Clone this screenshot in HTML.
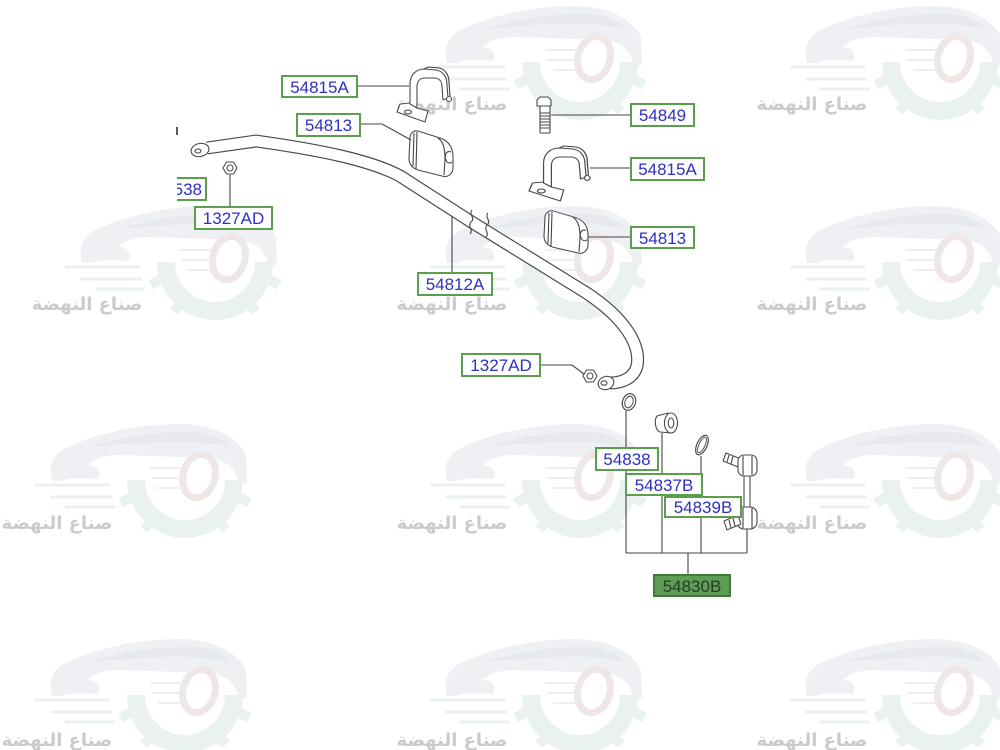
<!DOCTYPE html>
<html><head><meta charset="utf-8"><style>
html,body{margin:0;padding:0;background:#fff;}
svg{display:block;}
.lb{fill:#fff;stroke:#5a9e4e;stroke-width:2;}
.lt{font-family:"Liberation Sans",sans-serif;font-size:17px;fill:#2f2fc4;text-anchor:middle;}
.ln{fill:none;stroke:#444;stroke-width:1.1;}
.pt{fill:#fff;stroke:#4a4a4a;stroke-width:1.1;stroke-linejoin:round;}
.ar{font-family:"DejaVu Sans",sans-serif;font-size:18px;font-weight:bold;fill:#cbcbcb;text-anchor:middle;}
</style></head><body>
<svg width="1000" height="750" viewBox="0 0 1000 750" xmlns="http://www.w3.org/2000/svg">
<defs>
<g id="wm">
  <path d="M52,58 C48,42 52,30 72,22 C100,10 140,1 180,1 C212,1 238,14 246,32 L247,60 L238,60 C236,46 228,38 210,35 L120,32 C104,32 94,36 88,42 C98,43 102,48 98,56 C84,55 70,54 62,58 Z" fill="#eef0f3"/>
  <path d="M90,24 C120,14 160,8 195,9 C212,10 224,16 230,24 C212,20 190,18 165,19 C135,20 110,22 90,24 Z" fill="#e6eaee"/>
  <path d="M136,57 A49,49 0 0 0 234,57" fill="none" stroke="#eaf1f1" stroke-width="18"/>
  <rect x="120" y="72" width="12" height="10" fill="#eaf1f1" transform="rotate(-30 126 77)"/>
  <rect x="179" y="106" width="12" height="8" fill="#eaf1f1"/>
  <rect x="238" y="72" width="12" height="10" fill="#eaf1f1" transform="rotate(30 244 77)"/>
  <rect x="142" y="97" width="12" height="10" fill="#eaf1f1" transform="rotate(-45 148 102)"/>
  <rect x="216" y="97" width="12" height="10" fill="#eaf1f1" transform="rotate(45 222 102)"/>
  <ellipse cx="199" cy="53" rx="16" ry="22" transform="rotate(15 199 53)" fill="#fff" stroke="#efe6e6" stroke-width="7"/>
  <path d="M35,62 H110 M50,74 H112 M65,84 H115" stroke="#ebf0f0" stroke-width="3"/>
  <path d="M150,45 H182 M152,55 H180 M158,65 H182" stroke="#eceef0" stroke-width="2"/>
</g>
<clipPath id="cl538"><rect x="177" y="170" width="40" height="40"/></clipPath>
</defs>

<!-- watermark tiles -->
<use href="#wm" x="395" y="5"/><use href="#wm" x="755" y="5"/>
<use href="#wm" x="30" y="205"/><use href="#wm" x="395" y="205"/><use href="#wm" x="755" y="205"/>
<use href="#wm" x="0" y="423"/><use href="#wm" x="395" y="423"/><use href="#wm" x="755" y="423"/>
<use href="#wm" x="0" y="638"/><use href="#wm" x="395" y="638"/><use href="#wm" x="755" y="638"/>
<text class="ar" x="452" y="110">صناع النهضة</text>
<text class="ar" x="812" y="110">صناع النهضة</text>
<text class="ar" x="87" y="310">صناع النهضة</text>
<text class="ar" x="452" y="310">صناع النهضة</text>
<text class="ar" x="812" y="310">صناع النهضة</text>
<text class="ar" x="57" y="529">صناع النهضة</text>
<text class="ar" x="452" y="529">صناع النهضة</text>
<text class="ar" x="812" y="529">صناع النهضة</text>
<text class="ar" x="57" y="746">صناع النهضة</text>
<text class="ar" x="452" y="746">صناع النهضة</text>
<text class="ar" x="812" y="746">صناع النهضة</text>

<!-- small mark -->
<line x1="177" y1="127" x2="177" y2="135" stroke="#222" stroke-width="1.5"/>

<!-- stabilizer bar -->
<path d="M207,148 L256,141 C320,150 370,160 400,176 L470,221 L585,292 C625,318 641,345 637,366 C634,378 622,383 610,383" fill="none" stroke="#4a4a4a" stroke-width="13" stroke-linejoin="round"/>
<path d="M207,148 L256,141 C320,150 370,160 400,176 L470,221 L585,292 C625,318 641,345 637,366 C634,378 622,383 610,383" fill="none" stroke="#fff" stroke-width="10.6" stroke-linejoin="round"/>
<!-- break marks -->
<path d="M472,210 C468,214 476,218 471,222 C467,226 474,230 470,234" class="ln"/>
<path d="M488,213 C484,217 492,221 487,225 C483,229 490,233 486,237" class="ln"/>
<!-- eyes -->
<ellipse cx="200" cy="150" rx="9" ry="6.5" transform="rotate(-12 200 150)" class="pt"/>
<ellipse cx="198" cy="151" rx="3" ry="2" class="pt"/>
<ellipse cx="606" cy="383" rx="8" ry="6.5" transform="rotate(-20 606 383)" class="pt"/>
<ellipse cx="604" cy="383" rx="3" ry="2.2" class="pt"/>

<!-- left clamp 54815A -->
<g transform="translate(397,68)">
  <path class="pt" d="M0,44 L3,36 L13,35 L20,40 L31,43 L28,54 Z"/>
  <ellipse class="pt" cx="11" cy="44" rx="3.5" ry="2"/>
  <path class="pt" d="M13,36 L13,16 C13,7 19,1 27,1 L39,2 C46,3 50,9 50,17 L51,30 L46,32 L45,19 C45,13 42,10 37,10 L28,10 C23,10 20,13 20,19 L20,40 Z"/>
  <path class="ln" d="M27,1 L31,-1 L42,0 C48,1 52,7 52,14 L53,28"/>
  <circle class="pt" cx="52" cy="31" r="2.5"/>
</g>
<!-- right clamp 54815A -->
<g transform="translate(529,147) scale(1.12,1)">
  <path class="pt" d="M0,44 L3,36 L13,35 L20,40 L31,43 L28,54 Z"/>
  <ellipse class="pt" cx="11" cy="44" rx="3.5" ry="2"/>
  <path class="pt" d="M13,36 L13,16 C13,7 19,1 27,1 L39,2 C46,3 50,9 50,17 L51,30 L46,32 L45,19 C45,13 42,10 37,10 L28,10 C23,10 20,13 20,19 L20,40 Z"/>
  <path class="ln" d="M27,1 L31,-1 L42,0 C48,1 52,7 52,14 L53,28"/>
  <circle class="pt" cx="52" cy="31" r="2.5"/>
</g>
<!-- left bushing 54813 -->
<g transform="translate(408,130)">
  <path class="pt" d="M2,8 C2,3 6,0 10,1 L32,8 C41,11 45,18 45,27 L45,37 C45,44 40,48 34,46 L10,40 C4,38 1,34 1,28 Z"/>
  <path class="ln" d="M30,8 C36,12 37,20 37,30 L36,45"/>
  <path class="ln" d="M43,22 C38,20 36,26 38,30 C39,33 42,34 44,32"/>
  <path class="ln" d="M6,3 L5,36 M9,2 L8,39"/>
</g>
<!-- right bushing 54813 -->
<g transform="translate(543,210) scale(1,0.93)">
  <path class="pt" d="M2,8 C2,3 6,0 10,1 L32,8 C41,11 45,18 45,27 L45,37 C45,44 40,48 34,46 L10,40 C4,38 1,34 1,28 Z"/>
  <path class="ln" d="M30,8 C36,12 37,20 37,30 L36,45"/>
  <path class="ln" d="M43,22 C38,20 36,26 38,30 C39,33 42,34 44,32"/>
  <path class="ln" d="M6,3 L5,36 M9,2 L8,39"/>
</g>
<!-- bolt 54849 -->
<path class="pt" d="M537,100 L540,97 L548,97 L551,100 L551,106 L537,106 Z"/>
<rect class="pt" x="540" y="106" width="10" height="27" rx="1"/>
<path class="ln" d="M540,113 H550 M540,116 H550 M540,119 H550 M540,122 H550 M540,125 H550 M540,128 H550"/>
<!-- nuts -->
<polygon class="pt" points="237,168 233.5,174 226.5,174 223,168 226.5,162 233.5,162"/>
<circle class="pt" cx="230" cy="168" r="3"/>
<polygon class="pt" points="597,376 593.5,382 586.5,382 583,376 586.5,370 593.5,370"/>
<circle class="pt" cx="590" cy="376" r="3"/>

<!-- link parts -->
<ellipse cx="629" cy="402" rx="6.5" ry="8.5" transform="rotate(20 629 402)" fill="none" stroke="#4a4a4a" stroke-width="1.2"/>
<ellipse cx="629" cy="402" rx="4" ry="6" transform="rotate(20 629 402)" fill="none" stroke="#4a4a4a" stroke-width="1"/>
<path class="pt" d="M657,416 L668,413 L672,433 L660,432 C655,430 654,420 657,416 Z"/>
<ellipse class="pt" cx="671" cy="423" rx="6.5" ry="10"/>
<ellipse class="pt" cx="671" cy="423" rx="2.8" ry="5"/>
<ellipse cx="702" cy="445" rx="5" ry="10.5" transform="rotate(25 702 445)" fill="none" stroke="#4a4a4a" stroke-width="1.2"/>
<ellipse cx="702" cy="445" rx="3" ry="8.5" transform="rotate(25 702 445)" fill="none" stroke="#4a4a4a" stroke-width="0.9"/>
<!-- stabilizer link -->
<path class="pt" d="M744,474 L744,509 L750,509 L750,474 Z"/>
<path class="pt" d="M726,453 L741,459 L738,467 L723,461 Z"/>
<path class="ln" d="M729,455 L727,462 M733,456 L731,464"/>
<rect class="pt" x="738" y="455" width="19" height="21" rx="6"/>
<path class="ln" d="M743,456 L743,475 M752,456 L752,475"/>
<rect class="pt" x="737" y="507" width="20" height="22" rx="7"/>
<path class="ln" d="M743,508 L743,528 M752,508 L752,528"/>
<path class="pt" d="M738,515 L724,521 L727,530 L741,524 Z"/>
<path class="ln" d="M729,520 L731,528 M733,518 L735,526"/>

<!-- leaders -->
<path class="ln" d="M357,86 H409"/>
<path class="ln" d="M360,124 H382 L411,140"/>
<path class="ln" d="M230,175 V207"/>
<path class="ln" d="M551,115 H631"/>
<path class="ln" d="M590,168 H631"/>
<path class="ln" d="M588,237 H631"/>
<path class="ln" d="M452,217 V273"/>
<path class="ln" d="M540,365 H572 L584,374"/>
<path class="ln" d="M626,411 V448 M626,470 V553"/>
<path class="ln" d="M662,433 V474 M662,495 V553"/>
<path class="ln" d="M701,456 V497 M701,517 V553"/>
<path class="ln" d="M747,529 V553"/>
<path class="ln" d="M626,553 H747"/>
<path class="ln" d="M688,553 V575"/>

<!-- labels -->
<rect class="lb" x="282" y="76" width="75" height="21"/><text class="lt" x="319.5" y="93">54815A</text>
<rect class="lb" x="297" y="114" width="63" height="22"/><text class="lt" x="328.5" y="131">54813</text>
<g clip-path="url(#cl538)"><rect class="lb" x="150" y="178" width="56" height="22"/><text class="lt" x="202" y="195" style="text-anchor:end">538</text></g>
<rect class="lb" x="195" y="207" width="77" height="22"/><text class="lt" x="233.5" y="224">1327AD</text>
<rect class="lb" x="631" y="104" width="63" height="22"/><text class="lt" x="662.5" y="121">54849</text>
<rect class="lb" x="631" y="158" width="73" height="22"/><text class="lt" x="667.5" y="175">54815A</text>
<rect class="lb" x="631" y="227" width="63" height="21"/><text class="lt" x="662.5" y="244">54813</text>
<rect class="lb" x="418" y="273" width="74" height="22"/><text class="lt" x="455" y="290">54812A</text>
<rect class="lb" x="462" y="354" width="78" height="22"/><text class="lt" x="501" y="371">1327AD</text>
<rect class="lb" x="596" y="448" width="62" height="22"/><text class="lt" x="627" y="465">54838</text>
<rect class="lb" x="626" y="474" width="76" height="21"/><text class="lt" x="664" y="491">54837B</text>
<rect class="lb" x="665" y="497" width="76" height="20"/><text class="lt" x="703" y="513">54839B</text>
<rect x="654" y="575" width="76" height="21" fill="#5f9c55" stroke="#3f7a36" stroke-width="2"/><text class="lt" x="692" y="592" style="fill:#233f23">54830B</text>
</svg>
</body></html>
